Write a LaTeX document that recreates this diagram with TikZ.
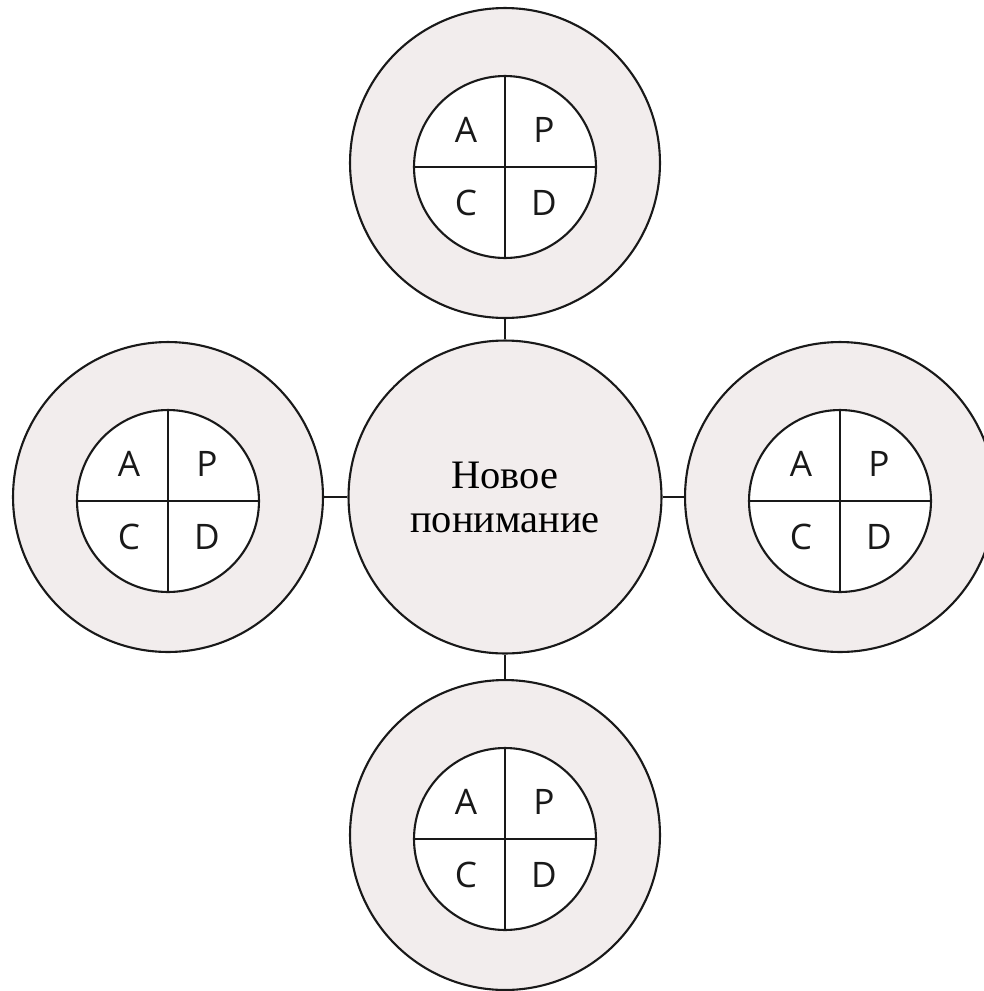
\documentclass[tikz,border=0pt]{standalone}
\usepackage{fontspec}
\setmainfont{Liberation Serif}
\newfontfamily\lettersf{Open Sans}
\usepackage{tikz}
\usetikzlibrary{calc}
\definecolor{ringfill}{RGB}{242,237,237}
\definecolor{mydark}{RGB}{25,25,25}
\tikzset{
  ring/.style={circle, draw=mydark, fill=ringfill, line width=1.2pt,
    minimum size=6.2cm, inner sep=0pt},
  hub/.style={circle, draw=mydark, fill=ringfill, line width=1.2pt,
    minimum size=6.26cm, inner sep=0pt, align=center,
    font=\fontsize{23}{25}\selectfont},
  core/.style={circle, draw=mydark, fill=white, line width=1.2pt,
    minimum size=3.64cm, inner sep=0pt},
  letter/.style={inner sep=0pt, font=\lettersf\fontsize{20}{24}\selectfont,
    text=mydark},
  line/.style={line width=1.2pt, color=mydark}
}

\begin{document}
\begin{tikzpicture}[x=0.02cm, y=-0.02cm]
  \useasboundingbox (0,0) rectangle (984,991);
  \clip (0,0) rectangle (984,991);

  % Central circle
  \node[hub] (new) at (505,497) {Новое\\понимание};

  % Four outer rings with the A/P/C/D quadrants
  \foreach \nm/\px/\py in {top/505/163, lft/168/497, rgt/840/497, bot/505/835} {
    \node[ring] (\nm) at (\px,\py) {};
    \node[core] (\nm-in) at (\px,\py+4) {};
    \draw[line] (\nm-in.north) -- (\nm-in.south);
    \draw[line] (\nm-in.west) -- (\nm-in.east);
    \node[letter] at ($(\nm-in)+(-39,-37)$) {A};
    \node[letter] at ($(\nm-in)+(39,-37)$) {P};
    \node[letter] at ($(\nm-in)+(-39,36)$) {C};
    \node[letter] at ($(\nm-in)+(39,36)$) {D};
  }

  % Connectors to the centre
  \foreach \nm in {top, lft, rgt, bot}
    \draw[line] (\nm) -- (new);
\end{tikzpicture}
\end{document}
